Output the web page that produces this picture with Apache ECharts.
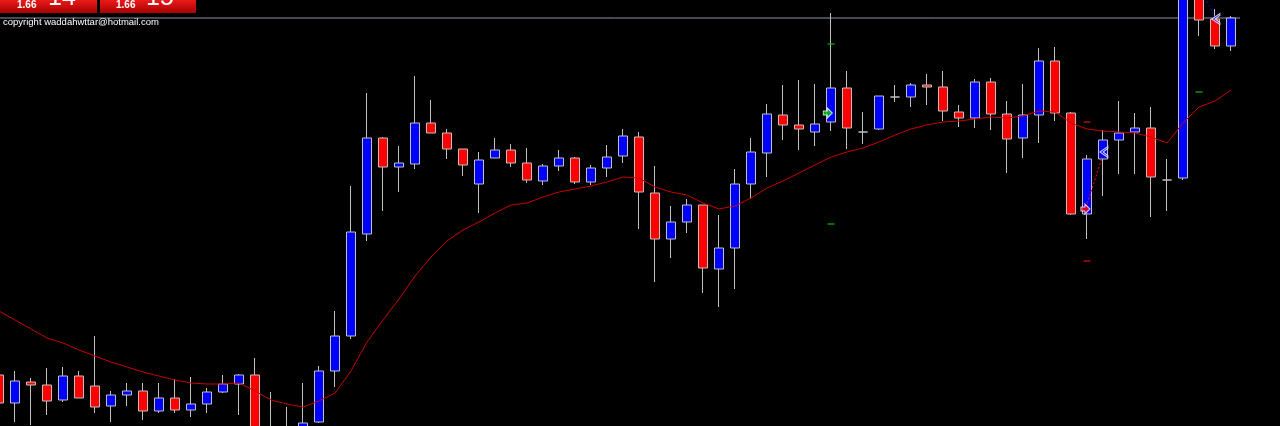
<!DOCTYPE html>
<html lang="en">
<head>
  <meta charset="UTF-8">
  <title>Candles</title>
  <style>
    html, body { margin: 0; padding: 0; background: #000; overflow: hidden; }
    #main { margin-left: -9px; }
  </style>
</head>
<body>
  <div id="main" style="width:1289px;height:426px;"></div>
<script src="https://cdn.jsdelivr.net/npm/echarts@6/dist/echarts.min.js"></script>
<script>
  // [open, close, low, high] in chart points
  var ohlc = [
    [51, 23, 16, 54], [23, 45, 4, 55], [44, 41, 1, 48], [41, 25, 11, 58],
    [26, 50, 24, 59], [50, 28, 28, 55], [40, 19, 13, 90], [20, 31, 4, 35],
    [31, 35, 20, 43], [35, 15, 6, 43], [15, 28, 13, 43], [28, 16, 13, 47],
    [16, 22, 9, 49], [22, 34, 13, 38], [34, 42, 33, 51], [42, 51, 11, 52],
    [51, -14, -24, 68], [-4, -19, -30, 34], [-9, -24, -35, 19], [-19, 3, -25, 43],
    [4, 55, 3, 60], [55, 90, 39, 115], [90, 194, 87, 240], [192, 288, 185, 333],
    [288, 259, 215, 289], [259, 263, 234, 280], [262, 303, 257, 350], [303, 293, 293, 326],
    [293, 277, 267, 297], [277, 261, 250, 277], [242, 266, 213, 274], [268, 276, 268, 288],
    [276, 263, 259, 282], [263, 246, 243, 278], [245, 260, 241, 262], [260, 268, 255, 276],
    [268, 244, 242, 269], [244, 258, 241, 261], [258, 269, 249, 281], [270, 290, 263, 297],
    [289, 234, 197, 294], [233, 187, 144, 260], [187, 204, 168, 220], [204, 221, 193, 227],
    [221, 158, 133, 221], [157, 178, 119, 211], [178, 242, 137, 257], [242, 274, 227, 288],
    [273, 312, 249, 322], [311, 301, 286, 341], [301, 297, 276, 346], [294, 302, 280, 342],
    [304, 338, 295, 413], [338, 298, 277, 355], [294, 294, 282, 314], [297, 330, 296, 330],
    [329, 329, 324, 341], [329, 341, 319, 343], [341, 339, 321, 352], [339, 315, 305, 355],
    [314, 308, 299, 321], [308, 344, 298, 347], [344, 312, 296, 348], [312, 287, 253, 325],
    [288, 311, 268, 342], [311, 365, 283, 378], [365, 313, 305, 379], [313, 212, 211, 314],
    [212, 267, 187, 271], [267, 286, 230, 296], [286, 293, 252, 325], [294, 298, 252, 313],
    [298, 249, 209, 319], [246, 246, 215, 267], [248, 466, 246, 470], [456, 406, 390, 460],
    [407, 380, 377, 417], [380, 408, 375, 410]
  ];

  // moving average, one value per bar
  var ma = [
    115, 106, 97, 88, 83, 76, 70, 64, 59, 54, 50, 46, 43, 42, 42, 43,
    35, 26, 22, 19, 25, 33, 55, 84, 106, 127, 150, 169, 185, 196, 204, 213,
    221, 223, 229, 234, 237, 240, 244, 249, 248, 239, 234, 231, 223, 217, 220, 228,
    238, 245, 253, 261, 269, 274, 278, 284, 291, 297, 301, 304, 305, 307, 309, 308,
    310, 315, 314, 303, 297, 295, 294, 293, 289, 283, 303, 319, 325, 336
  ];

  // signal marks: [bar position, price]
  var greenArrows = [[51.8, 313]];
  var redArrows = [[67.9, 217]];
  var leftArrows = [[69.06, 274], [76.06, 407]];
  var greenDashes = [[52, 382], [52, 202], [75, 334]];
  var redDashes = [[68, 304], [68, 165]];
  var redDotted = [[67.95, 219], [68.95, 269]];
  var blueDotted = [[75.3, 432], [76.0, 408]];

  var categories = ohlc.map(function (d, i) { return String(i); });
  var lastClose = ohlc[ohlc.length - 1][1];

  var myChart = echarts.init(document.getElementById('main'));

  var boxGrad = new echarts.graphic.LinearGradient(0, 0, 0, 1, [
    { offset: 0, color: '#ec1a1a' },
    { offset: 1, color: '#a80000' }
  ]);

  // the chart div is pulled 9px left so the first bar is cut off like in the terminal
  var dx = 9;

  myChart.setOption({
    backgroundColor: '#000000',
    animation: false,
    grid: { left: 0, right: 41, top: 0, bottom: 0 },
    xAxis: [
      { type: 'category', data: categories, show: false, boundaryGap: true },
      { type: 'value', min: -0.5, max: ohlc.length - 0.5, show: false }
    ],
    yAxis: { type: 'value', min: 0, max: 426, show: false, splitLine: { show: false } },
    series: [
      {
        type: 'line',
        xAxisIndex: 1,
        data: [[-1, lastClose], [81, lastClose]],
        clip: false,
        showSymbol: false,
        silent: true,
        lineStyle: { color: '#8a94a8', width: 1 },
        z: 1
      },
      {
        type: 'candlestick',
        data: ohlc,
        barWidth: 10,
        clip: true,
        itemStyle: {
          color: '#0000ff',
          color0: '#ff0000',
          borderColor: '#c0c0c0',
          borderColor0: '#c0c0c0',
          borderColorDoji: '#c0c0c0',
          borderWidth: 1
        },
        z: 2
      },
      {
        type: 'line',
        data: ma,
        showSymbol: false,
        lineStyle: { color: '#c80000', width: 1 },
        z: 3
      },
      {
        type: 'line',
        xAxisIndex: 1,
        data: redDotted,
        showSymbol: false,
        lineStyle: { color: '#ff0000', width: 1, type: [2, 2] },
        z: 4
      },
      {
        type: 'line',
        xAxisIndex: 1,
        data: blueDotted,
        showSymbol: false,
        clip: false,
        lineStyle: { color: '#1010c8', width: 1, type: [2, 2] },
        z: 4
      },
      {
        type: 'scatter',
        xAxisIndex: 1,
        data: greenDashes,
        symbol: 'rect',
        symbolSize: [7, 1.5],
        itemStyle: { color: '#00c000' },
        z: 5
      },
      {
        type: 'scatter',
        xAxisIndex: 1,
        data: redDashes,
        symbol: 'rect',
        symbolSize: [7, 1.5],
        itemStyle: { color: '#e01010' },
        z: 5
      },
      {
        type: 'scatter',
        xAxisIndex: 1,
        data: greenArrows,
        symbol: 'path://M0,3 L4,3 L4,0 L9,5 L4,10 L4,7 L0,7 Z',
        symbolSize: [9, 10],
        itemStyle: { color: '#00d000', borderColor: '#ffffff', borderWidth: 1 },
        z: 6
      },
      {
        type: 'scatter',
        xAxisIndex: 1,
        data: redArrows,
        symbol: 'path://M0,3 L4,3 L4,0 L9,5 L4,10 L4,7 L0,7 Z',
        symbolSize: [9, 10],
        itemStyle: { color: '#ff0000', borderColor: '#ffffff', borderWidth: 1 },
        z: 6
      },
      {
        type: 'scatter',
        xAxisIndex: 1,
        data: leftArrows,
        symbol: 'path://M10,0 L0,6 L10,12 L10,10 L4,6 L10,2 Z',
        symbolSize: [8, 11],
        itemStyle: { color: '#0000ff', borderColor: '#ffffff', borderWidth: 1 },
        z: 6
      }
    ],
    graphic: [
      { type: 'rect', shape: { x: dx + 0, y: 0, width: 97, height: 13 }, style: { fill: boxGrad }, z: 10 },
      { type: 'rect', shape: { x: dx + 100, y: 0, width: 96, height: 13 }, style: { fill: boxGrad }, z: 10 },
      { type: 'text', x: dx + 17, y: 10, style: { text: '1.66', fill: '#ffffff', font: 'bold 10px "Liberation Sans"', verticalAlign: 'bottom' }, z: 11 },
      { type: 'text', x: dx + 48, y: 11, style: { text: '14', fill: '#ffffff', font: '25px "Liberation Sans"', verticalAlign: 'bottom' }, z: 11 },
      { type: 'text', x: dx + 116, y: 10, style: { text: '1.66', fill: '#ffffff', font: 'bold 10px "Liberation Sans"', verticalAlign: 'bottom' }, z: 11 },
      { type: 'text', x: dx + 146, y: 11, style: { text: '15', fill: '#ffffff', font: '25px "Liberation Sans"', verticalAlign: 'bottom' }, z: 11 },
      { type: 'text', x: dx + 3, y: 22, style: { text: 'copyright waddahwttar@hotmail.com', fill: '#ffffff', font: '9.5px "Liberation Sans"', verticalAlign: 'middle' }, z: 11 }
    ]
  });
</script>
</body>
</html>
